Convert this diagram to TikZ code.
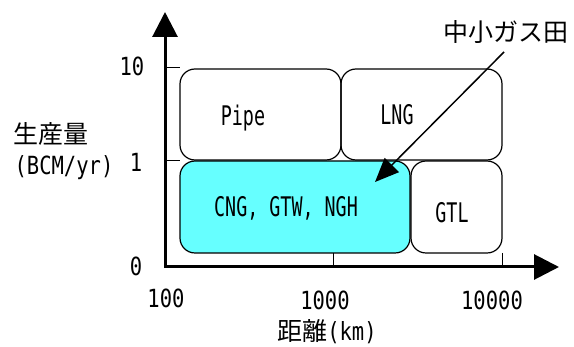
\documentclass[tikz,border=0pt]{standalone}
\usepackage{fontspec}
\usetikzlibrary{arrows.meta}
\newfontfamily\jp{Noto Sans CJK JP}
\newfontfamily\lat[FakeStretch=0.82]{DejaVu Sans Mono}
\newfontfamily\latbox[FakeStretch=0.68]{DejaVu Sans Mono}
\definecolor{boxcyan}{RGB}{102,255,255}
\begin{document}
\begin{tikzpicture}[x=1pt,y=-1pt,
  region/.style={draw=black,line width=1.2pt,rounded corners=15pt,inner sep=0pt},
  axis/.style={line width=3pt,-{Triangle[length=25pt,width=25pt]}},
  tick/.style={line width=1pt},
  txt/.style={inner sep=0pt,font=\lat\fontsize{25}{25}\selectfont},
  jtxt/.style={inner sep=0pt,font=\jp\fontsize{25}{25}\selectfont},
  boxtxt/.style={inner sep=0pt,font=\latbox\fontsize{27}{27}\selectfont},
  leader/.style={line width=1.5pt,-{Triangle[length=24pt,width=20pt]}}]
\useasboundingbox (0,0) rectangle (574,347);
% regions
\node[region,minimum width=161pt,minimum height=91pt] (pipe) at (260.5,114.5) {};
\node[region,minimum width=161pt,minimum height=91pt] (lng) at (421.5,114.5) {};
\node[region,fill=boxcyan,minimum width=230pt,minimum height=92pt] (cng) at (295,207) {};
\node[region,minimum width=91pt,minimum height=92pt] (gtl) at (456.5,207) {};
\node[boxtxt] (pipet) at (243,118) {Pipe};
\node[boxtxt] (lngt) at (397,115) {LNG};
\node[boxtxt] (cngt) at (286,208) {CNG, GTW, NGH};
\node[boxtxt] (gtlt) at (452,213) {GTL};
% axes
\coordinate (origin) at (165,267);
\coordinate (ytop) at (165,12);
\coordinate (xend) at (559,267);
\coordinate (t10a) at (165,68); \coordinate (t10b) at (180,68);
\coordinate (t1a) at (165,161); \coordinate (t1b) at (180,161);
\coordinate (tx1a) at (333,253); \coordinate (tx1b) at (333,267);
\coordinate (tx2a) at (502,253); \coordinate (tx2b) at (502,267);
\draw[tick] (t10a) -- (t10b);
\draw[tick] (t1a) -- (t1b);
\draw[tick] (tx1a) -- (tx1b);
\draw[tick] (tx2a) -- (tx2b);
\draw[axis] (origin) -- (ytop);
\draw[axis] (origin) -- (xend);
\fill (origin) ++(-1.5,-1.5) rectangle ++(3,3);
% axis labels
\node[txt] (l10) at (132,66) {10};
\node[txt] (l1) at (136,162) {1};
\node[txt] (l0) at (136,266) {0};
\node[txt] (l100) at (166,298) {100};
\node[txt] (l1000) at (325,300) {1000};
\node[txt] (l10000) at (492,300) {10000};
\node[jtxt] (xlab) at (327,332) {距離{\lat(km)}};
\node[jtxt] (ylab1) at (51,134) {生産量};
\node[txt] (ylab2) at (64,168) {(BCM/yr)};
% leader
\node[jtxt] (small) at (506,32) {中小ガス田};
\coordinate (lstart) at (504,52);
\coordinate (ltip) at (375,182);
\draw[leader] (lstart) -- (ltip);
\end{tikzpicture}
\end{document}
